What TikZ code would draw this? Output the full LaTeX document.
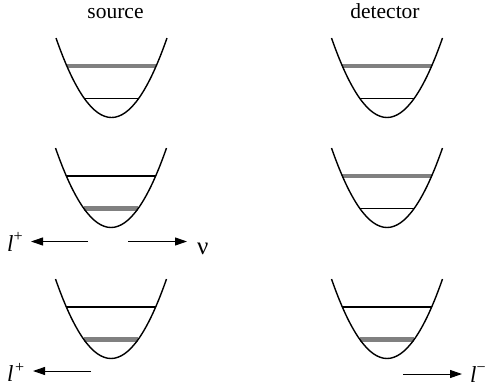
\documentclass[tikz,border=0pt]{standalone}
\usepackage{fontspec}
\setmainfont{Liberation Serif}
\usetikzlibrary{arrows.meta}
\definecolor{lev}{RGB}{128,128,128}
\tikzset{
  curve/.style={line width=1.4pt},
  lvl/.style={line width=1.5pt},
  glvl/.style={line width=4.5pt, draw=lev},
  arr/.style={line width=1pt, -{Triangle[length=12pt,width=8pt]}},
  ttl/.style={font=\fontsize{21.5}{24}\selectfont, anchor=base, inner sep=0pt},
  lbl/.style={font=\fontsize{23}{26}\selectfont, anchor=base west, inner sep=0pt},
  pics/wellhi/.style={code={
    \draw[glvl] (-44.7,28) -- (44.7,28);
    \draw[lvl] (-27.1,60.5) -- (27.1,60.5);
    \draw[curve] (-55.5,0) .. controls (-18.5,106) and (18.5,106) .. (55.5,0);
  }},
  pics/welllo/.style={code={
    \draw[lvl] (-44.7,28) -- (44.7,28);
    \draw[glvl] (-27.1,60.5) -- (27.1,60.5);
    \draw[curve] (-55.5,0) .. controls (-18.5,106) and (18.5,106) .. (55.5,0);
  }}
}
\begin{document}
\begin{tikzpicture}[x=1pt,y=-1pt]
\useasboundingbox (0,0) rectangle (490,391);
% titles
\node[ttl] (src) at (115.5,18.5) {source};
\node[ttl] (det) at (385,18.5) {detector};
% wells
\pic (s1) at (111.5,38) {wellhi};
\pic (d1) at (387,38) {wellhi};
\pic (s2) at (111,148) {welllo};
\pic (d2) at (387,148) {wellhi};
\pic (s3) at (111,279) {welllo};
\pic (d3) at (387,279) {welllo};
% labels
\node[lbl] (lp2) at (7,251) {\textit{l}\textsuperscript{+}};
\node[lbl, font=\fontsize{25}{28}\selectfont] (nu) at (197,254) {ν};
\node[lbl] (lp3) at (7,381.5) {\textit{l}\kern1.5pt\textsuperscript{+}};
\node[lbl] (lm3) at (470,382) {\textit{l}\textsuperscript{−}};
% arrows
\coordinate (a2t) at (88,241.5);
\coordinate (a2h) at (31,241.5);
\coordinate (b2t) at (128,241.5);
\coordinate (b2h) at (187,241.5);
\coordinate (a3t) at (91,371);
\coordinate (a3h) at (33,371);
\coordinate (b3t) at (403,374);
\coordinate (b3h) at (462,374);
\draw[arr] (a2t) -- (a2h);
\draw[arr] (b2t) -- (b2h);
\draw[arr] (a3t) -- (a3h);
\draw[arr] (b3t) -- (b3h);
\end{tikzpicture}
\end{document}
